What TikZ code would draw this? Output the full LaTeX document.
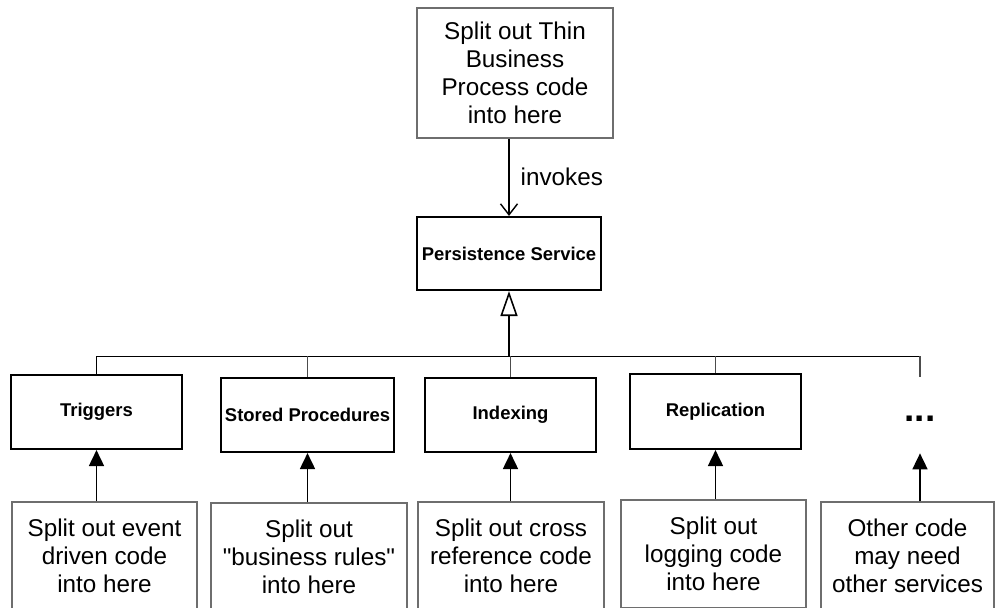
\documentclass[tikz,border=0pt]{standalone}
\usepackage{fontspec}
\setmainfont{Liberation Sans}
\usepackage{tikz}
\usetikzlibrary{arrows.meta}
\definecolor{notegray}{RGB}{110,110,110}

\begin{document}
\begin{tikzpicture}[
    notebox/.style={rectangle, draw=notegray, line width=0.6pt, fill=white, text=black,
                    align=center, font=\fontsize{13.8}{15.9}\selectfont, inner sep=0pt},
    servicebox/.style={rectangle, draw=black, line width=1.2pt, fill=white, text=black,
                    minimum width=3.42cm, minimum height=1.48cm, align=center,
                    font=\fontsize{10.5}{12.5}\selectfont\bfseries, inner sep=0pt},
    busline/.style={line width=0.5pt, draw=black},
    dropline/.style={line width=0.6pt, draw=black!70},
    uparrow/.style={line width=1pt, -{Triangle[length=0.32cm, width=0.3cm]}},
    invokearrow/.style={line width=0.8pt, -{Straight Barb[length=0.22cm, width=0.34cm]}},
    inherit/.style={line width=1.2pt, -{Triangle[open, length=0.5cm, width=0.34cm, line width=0.9pt]}}
]
    \clip (0,0) rectangle (19.94,-12.14);

    % Top - business process
    \node[notebox, minimum width=3.92cm, minimum height=2.6cm] (process) at (10.3,-1.46)
        {Split out Thin\\Business\\Process code\\into here};

    % Service
    \node[servicebox, minimum width=3.68cm, minimum height=1.46cm] (persist) at (10.18,-5.07) {Persistence Service};

    % Kinds of service
    \node[servicebox] (triggers) at (1.93,-8.24) {Triggers};
    \node[servicebox, minimum width=3.46cm] (stored) at (6.15,-8.3) {Stored Procedures};
    \node[servicebox] (indexing) at (10.21,-8.3) {Indexing};
    \node[servicebox, minimum height=1.5cm] (replic) at (14.31,-8.23) {Replication};
    \node[minimum height=1.52cm, inner sep=0pt, font=\fontsize{21}{22}\selectfont\bfseries] (more) at (18.4,-8.3)
        {\raisebox{-0.125cm}[0pt][0pt]{...}};

    % Code to split out
    \node[notebox, minimum width=3.7cm, minimum height=2.16cm] (evcode) at (2.09,-11.12)
        {Split out event\\driven code\\into here};
    \node[notebox, minimum width=3.92cm, minimum height=2.16cm] (rulecode) at (6.18,-11.14)
        {Split out\\\textquotedbl business rules\textquotedbl\\into here};
    \node[notebox, minimum width=3.72cm, minimum height=2.16cm] (xrefcode) at (10.22,-11.12)
        {Split out cross\\reference code\\into here};
    \node[notebox, minimum width=3.7cm, minimum height=2.16cm] (logcode) at (14.27,-11.08)
        {Split out\\logging code\\into here};
    \node[notebox, minimum width=3.46cm, minimum height=2.16cm] (othercode) at (18.15,-11.12)
        {Other code\\may need\\other services};

    \coordinate (bus) at (0,-7.12);

    % Connections
    \draw[invokearrow] (persist.north |- process.south) -- node[anchor=west, inner sep=0pt, xshift=0.22cm,
        font=\fontsize{13.8}{15.9}\selectfont] {invokes} (persist.north);
    \draw[busline] (triggers.north) -- (triggers.north |- bus) -- (more.north |- bus);
    \draw[dropline] (more.north |- bus) -- (more.north);
    \draw[dropline] (stored.north) -- (stored.north |- bus);
    \draw[dropline] (indexing.north) -- (indexing.north |- bus);
    \draw[dropline] (replic.north) -- (replic.north |- bus);
    \draw[inherit] (persist.south |- bus) -- (persist.south);

    \draw[uparrow] (triggers.south |- evcode.north) -- (triggers.south);
    \draw[uparrow] (stored.south |- rulecode.north) -- (stored.south);
    \draw[uparrow] (indexing.south |- xrefcode.north) -- (indexing.south);
    \draw[uparrow] (replic.south |- logcode.north) -- (replic.south);
    \draw[uparrow] (more.south |- othercode.north) -- (more.south);
\end{tikzpicture}
\end{document}
